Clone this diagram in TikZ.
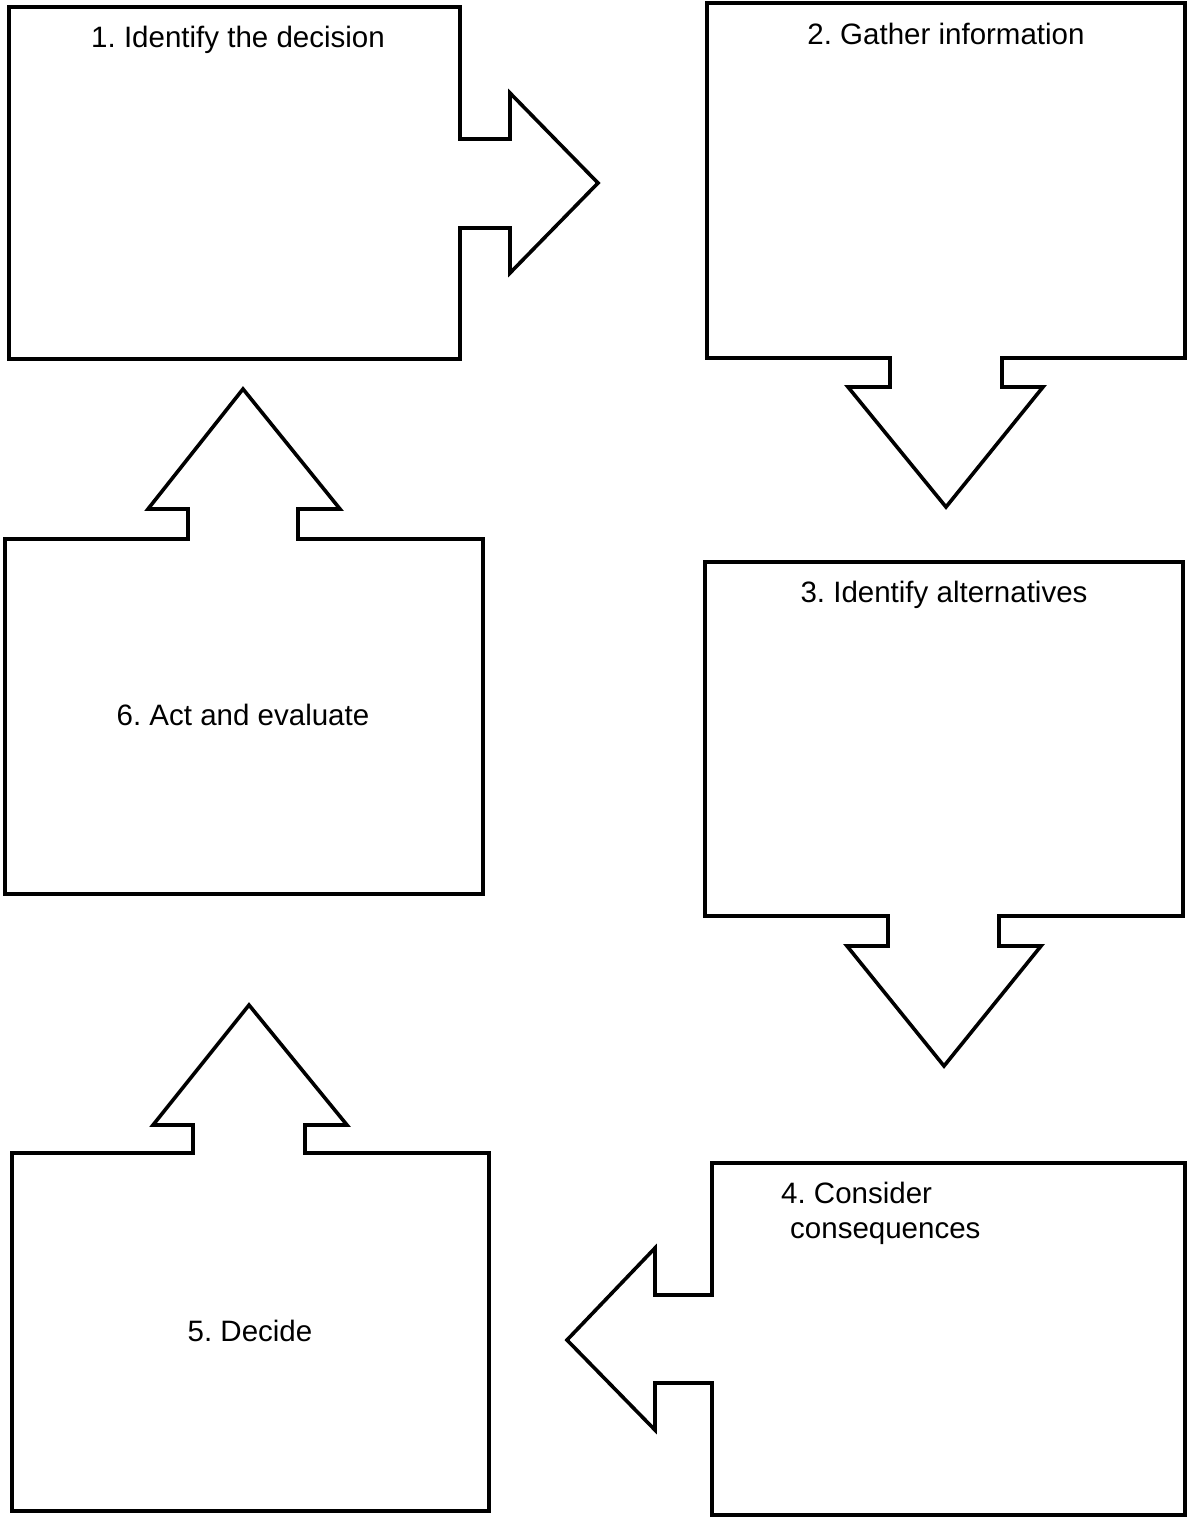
\documentclass[tikz,border=0pt]{standalone}
\usepackage{fontspec}
\setmainfont{Liberation Sans}
\usetikzlibrary{positioning}
\frenchspacing
\tikzset{
  outline/.style={draw=black,line width=3.6pt,miter limit=10,fill=white},
  steplabel/.style={font=\fontsize{29.5}{34.5}\selectfont,inner sep=0pt,anchor=center}
}

\begin{document}
\begin{tikzpicture}[x=1pt,y=-1pt]
  \useasboundingbox (0,0) rectangle (1187,1518);
  % step 1, pointing right
  \draw[outline] (9,7) -- (460,7) -- (460,139) -- (510,139) -- (510,93) -- (598,183)
    -- (510,273) -- (510,228) -- (460,228) -- (460,359) -- (9,359) -- cycle;
  % step 2, pointing down
  \draw[outline] (707,3) -- (1185,3) -- (1185,358) -- (1002,358) -- (1002,387) -- (1043,387)
    -- (946,507) -- (848,387) -- (890,387) -- (890,358) -- (707,358) -- cycle;
  % step 3, pointing down
  \draw[outline] (705,562) -- (1183,562) -- (1183,916) -- (999,916) -- (999,946) -- (1041,946)
    -- (944,1066) -- (847,946) -- (888,946) -- (888,916) -- (705,916) -- cycle;
  % step 4, pointing left
  \draw[outline] (712,1163) -- (1185,1163) -- (1185,1515) -- (712,1515) -- (712,1383) -- (655,1383)
    -- (655,1430) -- (567,1340) -- (655,1248) -- (655,1295) -- (712,1295) -- cycle;
  % step 5, pointing up
  \draw[outline] (12,1153) -- (193,1153) -- (193,1125) -- (153,1125) -- (249,1005) -- (347,1125)
    -- (305,1125) -- (305,1153) -- (489,1153) -- (489,1511) -- (12,1511) -- cycle;
  % step 6, pointing up
  \draw[outline] (5,539) -- (188,539) -- (188,509) -- (148,509) -- (243,389) -- (340,509)
    -- (298,509) -- (298,539) -- (483,539) -- (483,894) -- (5,894) -- cycle;

  \node[steplabel] (s1) at (238,40) {1. Identify the decision};
  \node[steplabel] (s2) at (946,34) {2. Gather information};
  \node[steplabel] (s3) at (944,595) {3. Identify alternatives};
  \node[steplabel,align=left,anchor=north west] (s4) at (781,1182)
    {4. Consider\\\hspace{9pt}consequences};
  \node[steplabel] (s5) at (250,1331) {5. Decide};
  \node[steplabel] (s6) at (243,715) {6. Act and evaluate};
\end{tikzpicture}
\end{document}
